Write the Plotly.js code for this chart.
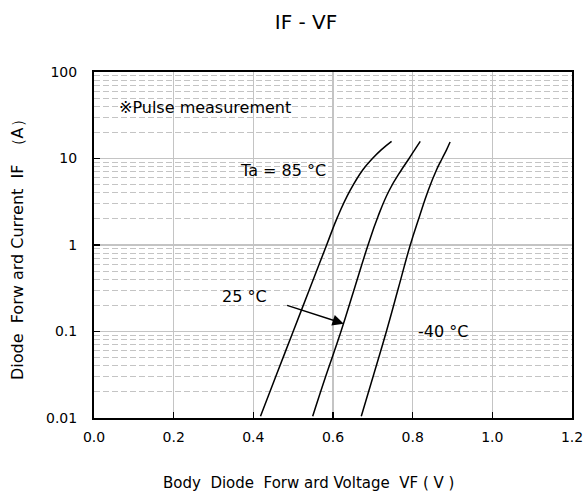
<!DOCTYPE html>
<html>
<head>
<meta charset="utf-8">
<script src="https://cdn.plot.ly/plotly-3.0.1.min.js"></script>
<style>html,body{margin:0;padding:0;background:#fff;}#chart{width:583px;height:500px;}</style>
</head>
<body>
<div id="chart"></div>
<script>
// Data (VF in volts, IF in amperes)
const if85 = [0.0105, 0.0316, 0.1, 0.316, 1, 2.14, 4.27, 7.41, 10, 12.6, 15.8];
const vf85 = [0.418, 0.458, 0.500, 0.542, 0.584, 0.612, 0.643, 0.675, 0.699, 0.721, 0.747];
const if25 = [0.0105, 0.0316, 0.1, 0.316, 1, 2.14, 4.27, 7.41, 10, 12.6, 15.8];
const vf25 = [0.549, 0.583, 0.620, 0.654, 0.688, 0.713, 0.741, 0.772, 0.791, 0.805, 0.819];
const ifm40 = [0.0105, 0.0316, 0.1, 0.316, 1, 2.14, 4.27, 7.41, 10, 12.6, 15.5];
const vfm40 = [0.671, 0.702, 0.734, 0.764, 0.794, 0.817, 0.839, 0.860, 0.874, 0.885, 0.894];

const xTickVals = [0, 0.2, 0.4, 0.6, 0.8, 1.0, 1.2];
const xTickText = ["0.0", "0.2", "0.4", "0.6", "0.8", "1.0", "1.2"];
const yTickVals = [0.01, 0.1, 1, 10, 100];
const yTickText = ["0.01", "0.1", "1", "10", "100"];
const yMinorVals = [];
[0.01, 0.1, 1, 10].forEach(function (d) { for (let k = 2; k <= 9; k++) yMinorVals.push(+(k * d).toPrecision(3)); });

const curveLabels = ["Ta = 85 °C", "25 °C", "-40 °C"];
const noteText = "※Pulse measurement";
const chartTitle = "IF - VF";
const xTitle = "Body\u00a0 Diode\u00a0 Forw ard Voltage\u00a0 VF ( V )";
const yTitle = "Diode\u00a0 Forw ard Current\u00a0 IF\u00a0 （A）";

const font = "DejaVu Sans, Liberation Sans, sans-serif";
const lineStyle = {color: "#000", width: 1.5, shape: "spline", smoothing: 1.3};

const traces = [
  {x: vf85, y: if85, mode: "lines", line: lineStyle, hoverinfo: "none"},
  {x: vf25, y: if25, mode: "lines", line: lineStyle, hoverinfo: "none"},
  {x: vfm40, y: ifm40, mode: "lines", line: lineStyle, hoverinfo: "none"},
  {x: [null], y: [null], yaxis: "y2", mode: "lines", hoverinfo: "none"}
];

const W = 583, H = 500, ML = 94, MR = 11, MT = 72, MB = 82;
const PW = W - ML - MR, PH = H - MT - MB;

const layout = {
  width: W, height: H,
  margin: {l: ML, r: MR, t: MT, b: MB},
  paper_bgcolor: "#fff", plot_bgcolor: "#fff",
  showlegend: false,
  font: {family: font, size: 14, color: "#000"},
  title: {text: chartTitle, font: {family: font, size: 20, color: "#000"}, xref: "container", x: 306 / W, xanchor: "center", yref: "container", y: 1 - 22 / H, yanchor: "middle"},
  xaxis: {
    range: [0, 1.2], tickvals: xTickVals, ticktext: xTickText,
    showgrid: true, gridcolor: "#c4c4c4", gridwidth: 1.2,
    ticks: "inside", ticklen: 6, tickwidth: 1.5, tickcolor: "#000",
    showline: true, linecolor: "#000", linewidth: 2, mirror: true,
    zeroline: false, ticklabelstandoff: 5, ticklabeloverflow: "allow",
    tickfont: {family: font, size: 14, color: "#000"}
  },
  yaxis: {
    type: "log", range: [-2, 2], tickvals: yTickVals, ticktext: yTickText,
    showgrid: true, gridcolor: "#c4c4c4", gridwidth: 1.5,
    ticks: "inside", ticklen: 6, tickwidth: 1.5, tickcolor: "#000",
    showline: true, linecolor: "#000", linewidth: 2, mirror: true,
    zeroline: false, ticklabelstandoff: 12, ticklabeloverflow: "allow",
    tickfont: {family: font, size: 14, color: "#000"}
  },
  yaxis2: {
    type: "log", range: [-2, 2], overlaying: "y", side: "left",
    tickvals: yMinorVals, showticklabels: false, ticks: "",
    showgrid: true, gridcolor: "#c4c4c4", gridwidth: 1, griddash: "6px,3px",
    showline: false, zeroline: false
  },
  annotations: [
    {text: noteText, xref: "paper", yref: "paper", x: (117 - ML) / PW, y: 1 - (107 - MT) / PH, xanchor: "left", yanchor: "middle", showarrow: false, font: {family: font, size: 16, color: "#000"}},
    {text: curveLabels[0], xref: "x", yref: "y", x: 0.475, y: 0.865, xanchor: "center", yanchor: "middle", showarrow: false, font: {family: font, size: 16, color: "#000"}},
    {text: curveLabels[1], xref: "x", yref: "y", x: 0.379, y: -0.6, xanchor: "center", yanchor: "middle", showarrow: false, font: {family: font, size: 16, color: "#000"}},
    {text: curveLabels[2], xref: "x", yref: "y", x: 0.875, y: -1.0, xanchor: "center", yanchor: "middle", showarrow: false, font: {family: font, size: 16, color: "#000"}},
    {text: "", xref: "x", yref: "y", x: 0.627, y: Math.log10(0.123), axref: "x", ayref: "y", ax: 0.481, ay: Math.log10(0.203), showarrow: true, arrowhead: 2, arrowsize: 1.5, arrowwidth: 1.5, arrowcolor: "#000"},
    {text: xTitle, xref: "paper", yref: "paper", x: (308 - ML) / PW, y: 0, yshift: -65, xanchor: "center", yanchor: "middle", showarrow: false, font: {family: font, size: 15, color: "#000"}},
    {text: yTitle, xref: "paper", yref: "paper", x: (17 - ML) / PW, y: (H - MB - 246) / PH, textangle: -90, xanchor: "center", yanchor: "middle", showarrow: false, font: {family: font, size: 16, color: "#000"}}
  ]
};

Plotly.newPlot("chart", traces, layout, {staticPlot: true, displayModeBar: false});
</script>
</body>
</html>
